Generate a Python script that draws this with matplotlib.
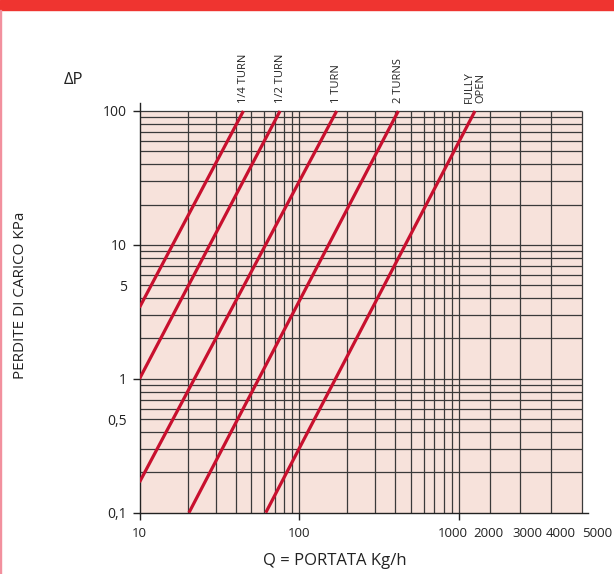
import numpy as np
import matplotlib
matplotlib.use("Agg")
import matplotlib.pyplot as plt
from matplotlib.patches import Rectangle
from matplotlib.transforms import ScaledTranslation

plt.rcParams['font.family'] = ['Open Sans', 'DejaVu Sans']

# valve openings and their straight lines (start / end points)
openings = ["1/4 TURN", "1/2 TURN", "1 TURN", "2 TURNS", "FULLY\nOPEN"]
q_start = [10, 10, 10, 20.4, 61.7]
dp_start = [3.41, 1.0, 0.169, 0.1, 0.1]
q_end = [44.7, 75.8, 171.5, 417, 1520]
dp_end = [100, 100, 100, 100, 100]

x_major = [10, 100, 1000]
x_major_labels = ["10", "100", "1000"]
x_extra = [2000, 3000, 4000, 5000]
x_extra_labels = ["2000", "3000", "4000", "5000"]
y_major = [0.1, 1, 10, 100]
y_major_labels = ["0,1", "1", "10", "100"]
y_extra = [0.5, 5]
y_extra_labels = ["0,5", "5"]

x_grid = [20, 30, 40, 50, 60, 70, 80, 90, 100,
          200, 300, 400, 500, 600, 700, 800, 900, 1000,
          2000, 3000, 4000, 5000]
y_grid = [0.2, 0.3, 0.4, 0.5, 0.6, 0.7, 0.8, 0.9, 1,
          2, 3, 4, 5, 6, 7, 8, 9, 10,
          20, 30, 40, 50, 60, 70, 80, 90, 100]

# x axis: log up to 1000, then compressed linear steps
K = 0.1925


def fwd(x):
    x = np.asarray(x, float)
    lg = np.log10(np.maximum(x, 1e-300))
    return np.where(x <= 1000, lg, 3 + (x - 1000) / 1000 * K)


def inv(p):
    p = np.asarray(p, float)
    return np.where(p <= 3, 10 ** np.minimum(p, 3), 1000 + (p - 3) / K * 1000)


W, H = 614, 574
fig = plt.figure(figsize=(W / 100, H / 100), dpi=100)
fig.patches.append(Rectangle((0, 1 - 10 / H), 1, 10 / H, transform=fig.transFigure,
                             color="#ef3430", zorder=0))
fig.patches.append(Rectangle((0, 0), 1.5 / W, 1 - 10 / H, transform=fig.transFigure,
                             color="#f2909e", zorder=0))

ax = fig.add_axes([139.5 / W, (H - 512.7) / H, (588 - 139.5) / W, (512.7 - 103) / H])
ax.set_facecolor("none")
ax.set_xscale("function", functions=(fwd, inv))
ax.set_yscale("log")
ax.set_xlim(10, float(inv(fwd(5000) + 6 / 159.75)))
ax.set_ylim(0.1, 10 ** (2 + 8 / 133.9))

ax.fill_between([10, 5000], 0.1, 100, color="#f7e2db", lw=0, zorder=0)
ax.vlines(x_grid, 0.1, 100, colors="#3a3a3a", lw=0.9, zorder=1)
ax.hlines(y_grid, 10, 5000, colors="#3a3a3a", lw=0.9, zorder=1)

for name, x0, y0, x1, y1 in zip(openings, q_start, dp_start, q_end, dp_end):
    ax.plot([x0, x1], [y0, y1], color="#c8102e", lw=2.3, solid_capstyle="butt", zorder=3)
    ax.annotate(name, (x1, y1), xytext=(0, 6), textcoords="offset points",
                rotation=90, ha="center", va="bottom", multialignment="left",
                fontsize=8, color="#222222", linespacing=1.0)

ax.set_xticks(x_major, x_major_labels)
ax.set_xticks(x_extra, x_extra_labels, minor=True)
ax.set_yticks(y_major, y_major_labels)
ax.set_yticks(y_extra, y_extra_labels, minor=True)
ax.tick_params(which="major", length=5, width=1, color="#222222", pad=4,
               labelsize=10, labelcolor="#222222")
ax.tick_params(which="minor", length=0, pad=9, labelsize=10, labelcolor="#222222")
ax.tick_params(axis="x", which="major", pad=5.5, labelsize=9.5)
ax.tick_params(axis="x", which="minor", pad=10.5, labelsize=9.5)

# the crowded labels past 1000 are spread out a little, as in the original
shifts = [-6, -1, 7, 9, 15]
crowded = [ax.get_xticklabels()[-1]] + list(ax.get_xticklabels(minor=True))
for lab, dx in zip(crowded, shifts):
    lab.set_transform(lab.get_transform() + ScaledTranslation(dx / 100, 0, fig.dpi_scale_trans))

for s in ["top", "right"]:
    ax.spines[s].set_visible(False)
for s in ["left", "bottom"]:
    ax.spines[s].set_color("#222222")
    ax.spines[s].set_linewidth(1.0)

fig.text(74 / W, 1 - 80 / H, "ΔP", fontsize=12, ha="center", va="center", color="#222222")
fig.text(21 / W, 1 - 295 / H, "PERDITE DI CARICO KPa", rotation=90,
         fontsize=11, ha="center", va="center", color="#222222")
fig.text(335 / W, 1 - 561 / H, "Q = PORTATA Kg/h", fontsize=12, ha="center", va="center",
         color="#222222")

fig.savefig("out.png", dpi=100)
